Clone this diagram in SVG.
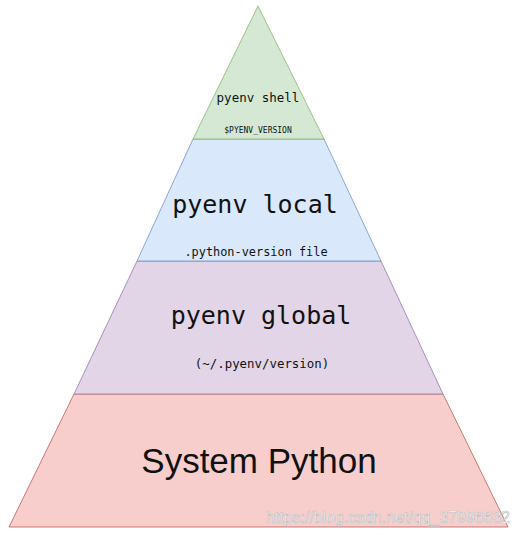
<svg xmlns="http://www.w3.org/2000/svg" width="520" height="538" viewBox="0 0 520 538">
<style>
.mono{font-family:"DejaVu Sans Mono","Liberation Mono",monospace;fill:#111;text-anchor:middle}
.sans{font-family:"Liberation Sans",Arial,sans-serif;fill:#111;text-anchor:middle}
.lay{stroke-width:1;stroke-opacity:0.75}
</style>
<rect width="520" height="538" fill="#ffffff"/>
<g id="system-python">
<polygon class="lay" points="74,394 443,394 508,527 9,527" fill="#f8cecc" stroke="#b85450"/>
<text class="sans" x="259" y="473" font-size="35">System Python</text>
</g>
<g id="pyenv-global">
<polygon class="lay" points="137,261 381,261 443,394 74,394" fill="#e1d5e7" stroke="#9673a6"/>
<text class="mono" x="261" y="324" font-size="25">pyenv global</text>
<text class="mono" x="262" y="368" font-size="12.4">(~/.pyenv/version)</text>
</g>
<g id="pyenv-local">
<polygon class="lay" points="193,139 324,139 381,261 137,261" fill="#dae8fc" stroke="#6c8ebf"/>
<text class="mono" x="255" y="213" font-size="25">pyenv local</text>
<text class="mono" x="256" y="256" font-size="11.9">.python-version file</text>
</g>
<g id="pyenv-shell">
<polygon class="lay" points="258,6 324,139 193,139" fill="#d5e8d4" stroke="#82b366"/>
<text class="mono" x="258" y="102" font-size="12.5">pyenv shell</text>
<text class="mono" x="258" y="133" font-size="8">$PYENV_VERSION</text>
</g>
<g id="connectors"></g>
<text x="266" y="523" font-family="'Liberation Sans',Arial,sans-serif" font-size="16" textLength="244" fill="#ffffff" stroke="#c0c0c0" stroke-width="0.7">https://blog.csdn.net/qq_37996632</text>
</svg>
